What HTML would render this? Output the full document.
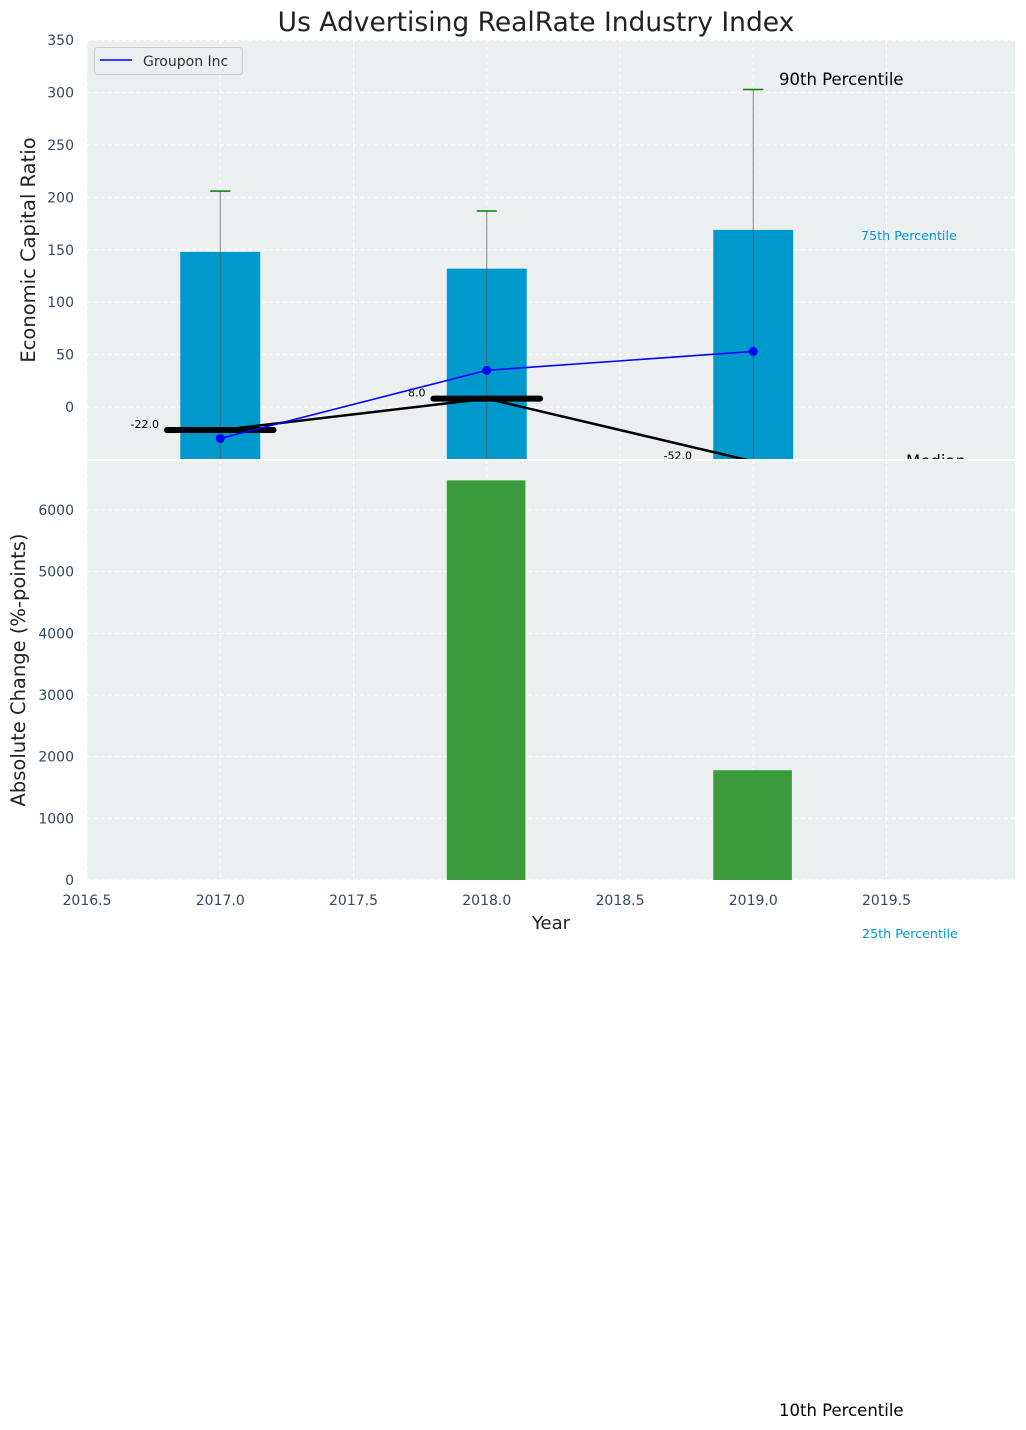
<!DOCTYPE html>
<html><head><meta charset="utf-8">
<style>
body{margin:0;background:#fff;}
svg{display:block;font-family:"DejaVu Sans","Liberation Sans",sans-serif;}
</style></head>
<body>
<svg id="chart" width="1026" height="1430" viewBox="0 0 1026 1430" xmlns="http://www.w3.org/2000/svg"></svg>
<script>
const years = [2017, 2018, 2019];
const p75 = [148, 132, 169];
const p90 = [206, 187, 303];
const groupon = [-30, 35, 53];
const median = [-22, 8, -52];
const absChange = [0, 6480, 1780];
const topTicks = [0, 50, 100, 150, 200, 250, 300, 350];
const botTicks = [0, 1000, 2000, 3000, 4000, 5000, 6000];
const xTicks = [2016.5, 2017.0, 2017.5, 2018.0, 2018.5, 2019.0, 2019.5];

const NS = "http://www.w3.org/2000/svg";
const svg = document.getElementById('chart');
const L = 87, R = 1015;
const T1 = 40, B1 = 460, T2 = 460, B2 = 880;
const x = v => L + (v - 2016.5) * 266.5;
const y1 = v => 407 - v * 1.048;
const y2 = v => 880 - v * 0.06167;

function el(tag, attrs, parent) {
  const e = document.createElementNS(NS, tag);
  for (const k in attrs) e.setAttribute(k, attrs[k]);
  (parent || svg).appendChild(e);
  return e;
}
function txt(s, attrs, parent) { const t = el('text', attrs, parent); t.textContent = s; return t; }

const defs = el('defs', {});
const c1 = el('clipPath', {id: 'c1'}, defs); el('rect', {x: L, y: T1, width: R - L, height: B1 - T1}, c1);
const c2 = el('clipPath', {id: 'c2'}, defs); el('rect', {x: L, y: T2, width: R - L, height: B2 - T2}, c2);

const title = txt('Us Advertising RealRate Industry Index', {x: 536, y: 31, 'font-size': 26.5, 'text-anchor': 'middle', fill: '#222'});



const ax1 = el('g', {});


el('rect', {x: L, y: T1, width: R - L, height: B1 - T1, fill: '#ebeff0'}, ax1);
const g1 = el('g', {'clip-path': 'url(#c1)'}, ax1);
topTicks.forEach(v => {
  el('line', {x1: L, x2: R, y1: y1(v), y2: y1(v), stroke: '#fff', 'stroke-dasharray': '4,3', 'stroke-width': 1}, g1);
  const t = txt(String(v), {x: L - 13, y: y1(v) + 5, 'font-size': 14, 'text-anchor': 'end', fill: '#34495e'});
  
  
});
xTicks.forEach(v => el('line', {x1: x(v), x2: x(v), y1: T1, y2: B1, stroke: '#fff', 'stroke-dasharray': '4,3'}, g1));

years.forEach((yr, i) => {
  const b = el('rect', {x: x(yr - 0.15), y: y1(p75[i]), width: 0.3 * 266.5, height: y1(-60) - y1(p75[i]), fill: '#0099cc'}, g1);
  
  
  el('line', {x1: x(yr), x2: x(yr), y1: y1(p90[i]), y2: y1(-60), stroke: '#555', 'stroke-width': 1, opacity: 0.7}, g1);
  const cap = el('line', {x1: x(yr) - 10, x2: x(yr) + 10, y1: y1(p90[i]), y2: y1(p90[i]), stroke: 'green', 'stroke-width': 1.5}, g1);
  
  
});

const medLine = el('polyline', {points: years.map((yr, i) => x(yr) + ',' + y1(median[i])).join(' '), fill: 'none', stroke: '#000', 'stroke-width': 2.5}, g1);


years.forEach((yr, i) => {
  if (median[i] > -45) {
    const s = el('line', {x1: x(yr - 0.2), x2: x(yr + 0.2), y1: y1(median[i]), y2: y1(median[i]), stroke: '#000', 'stroke-width': 6, 'stroke-linecap': 'round'}, g1);
    
    
  }
  const l = txt(median[i].toFixed(1), {x: x(yr - 0.23), y: y1(median[i]) - 2, 'font-size': 11, 'text-anchor': 'end', fill: '#000'}, g1);
  
  
});

const gl = el('polyline', {points: years.map((yr, i) => x(yr) + ',' + y1(groupon[i])).join(' '), fill: 'none', stroke: '#0000ff', 'stroke-width': 1.6}, g1);


years.forEach((yr, i) => {
  const p = el('circle', {cx: x(yr), cy: y1(groupon[i]), r: 4.5, fill: '#0000ff'}, g1);
  
  
});

const a90 = txt('90th Percentile', {x: 779, y: 85, 'font-size': 16.5, fill: '#000'});


const a75 = txt('75th Percentile', {x: 861, y: 240, 'font-size': 12.7, fill: '#0099cc'});


const aMed = txt('Median', {x: 906, y: 467, 'font-size': 16.5, fill: '#000'});



const leg = el('g', {});


el('rect', {x: 94.5, y: 47.5, width: 148, height: 27, rx: 3, fill: '#ebeff0', stroke: '#ccc'}, leg);
el('line', {x1: 100, x2: 132, y1: 60, y2: 60, stroke: '#0000ff', 'stroke-width': 1.6}, leg);
txt('Groupon Inc', {x: 143, y: 66, 'font-size': 14, fill: '#333'}, leg);

const yl1 = txt('Economic Capital Ratio', {x: 0, y: 0, 'font-size': 19.5, 'text-anchor': 'middle', fill: '#222', transform: 'translate(35,250) rotate(-90)'});



const ax2 = el('g', {});


el('rect', {x: L, y: T2 + 1, width: R - L, height: B2 - T2 - 1, fill: '#ebeff0'}, ax2);
el('line', {x1: L, x2: R, y1: 460, y2: 460, stroke: '#fff', 'stroke-width': 2}, ax2);
const g2 = el('g', {'clip-path': 'url(#c2)'}, ax2);
botTicks.forEach(v => {
  el('line', {x1: L, x2: R, y1: y2(v), y2: y2(v), stroke: '#fff', 'stroke-dasharray': '4,3'}, g2);
  const t = txt(String(v), {x: L - 13, y: y2(v) + 5, 'font-size': 14, 'text-anchor': 'end', fill: '#34495e'});
  
  
});
xTicks.forEach(v => {
  el('line', {x1: x(v), x2: x(v), y1: T2, y2: B2, stroke: '#fff', 'stroke-dasharray': '4,3'}, g2);
  const t = txt(v.toFixed(1), {x: x(v), y: 905, 'font-size': 14, 'text-anchor': 'middle', fill: '#34495e'});
  
  
});
years.forEach((yr, i) => {
  if (absChange[i] <= 0) return;
  const b = el('rect', {x: x(yr - 0.15), y: y2(absChange[i]), width: 0.295 * 266.5, height: y2(0) - y2(absChange[i]), fill: '#3c9b3c'}, g2);
  
  
});

const yl2 = txt('Absolute Change (%-points)', {x: 0, y: 0, 'font-size': 19.5, 'text-anchor': 'middle', fill: '#222', transform: 'translate(25,670) rotate(-90)'});


const xl = txt('Year', {x: 551, y: 929, 'font-size': 18, 'text-anchor': 'middle', fill: '#222'});



const a25 = txt('25th Percentile', {x: 862, y: 938, 'font-size': 12.7, fill: '#0099cc'});


const a10 = txt('10th Percentile', {x: 779, y: 1416, 'font-size': 16.5, fill: '#000'});


</script>
</body></html>
